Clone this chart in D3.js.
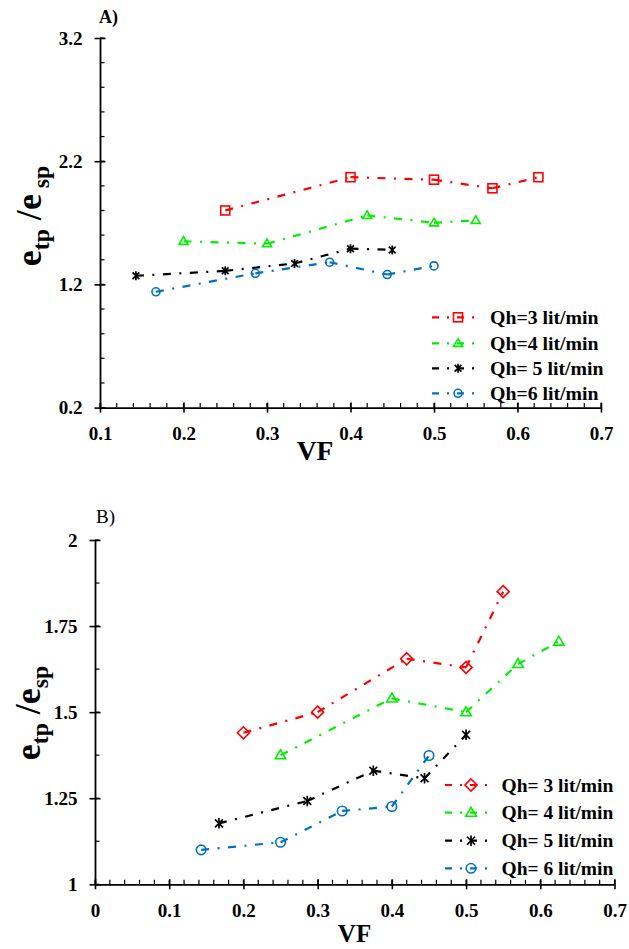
<!DOCTYPE html>
<html><head><meta charset="utf-8">
<script src="https://cdn.jsdelivr.net/npm/d3@7"></script>
<style>
html,body{margin:0;padding:0;background:#fff;}
svg text{font-family:"Liberation Serif","Times New Roman",Tinos,Times,serif !important;}
</style></head>
<body><svg id="c" width="629" height="949"></svg>
<script>
// ---------- DATA ----------
// Panel A
const vfA3 = [0.25, 0.4, 0.5, 0.57, 0.625];
const eA3  = [1.80, 2.07, 2.05, 1.98, 2.07];
const vfA4 = [0.2, 0.3, 0.42, 0.5, 0.55];
const eA4  = [1.55, 1.53, 1.76, 1.70, 1.72];
const vfA5 = [0.143, 0.25, 0.333, 0.4, 0.45];
const eA5  = [1.27, 1.31, 1.37, 1.49, 1.48];
const vfA6 = [0.167, 0.286, 0.375, 0.444, 0.5];
const eA6  = [1.14, 1.29, 1.38, 1.28, 1.35];
const labelsA = ["Qh=3 lit/min", "Qh=4 lit/min", "Qh= 5 lit/min", "Qh=6 lit/min"];
const yTicksA = [0.2, 1.2, 2.2, 3.2];
const xTicksA = [0.1, 0.2, 0.3, 0.4, 0.5, 0.6, 0.7];
// Panel B
const vfB3 = [0.2, 0.3, 0.42, 0.5, 0.55];
const eB3  = [1.44, 1.50, 1.655, 1.63, 1.85];
const vfB4 = [0.25, 0.4, 0.5, 0.57, 0.625];
const eB4  = [1.375, 1.54, 1.50, 1.64, 1.705];
const vfB5 = [0.167, 0.286, 0.375, 0.444, 0.5];
const eB5  = [1.177, 1.242, 1.33, 1.308, 1.434];
const vfB6 = [0.143, 0.25, 0.333, 0.4, 0.45];
const eB6  = [1.10, 1.122, 1.213, 1.226, 1.374];
const labelsB = ["Qh= 3 lit/min", "Qh= 4 lit/min", "Qh= 5 lit/min", "Qh= 6 lit/min"];
const yTicksB = [1, 1.25, 1.5, 1.75, 2];
const xTicksB = [0, 0.1, 0.2, 0.3, 0.4, 0.5, 0.6, 0.7];

const colors = ["#ff0000", "#00ee00", "#000000", "#0070c0"];

// ---------- DRAW ----------
const FONT = '"Liberation Serif","Times New Roman",Tinos,Times,serif';
const svg = d3.select("#c");
const DASH = "8,8.5,2,8.5";

function marker(g, type, x, y, s, color) {
  const sw = 1.6;
  if (type === "square") {
    g.append("rect").attr("x", x - s/2).attr("y", y - s/2).attr("width", s).attr("height", s)
      .attr("fill", "none").attr("stroke", color).attr("stroke-width", sw);
  } else if (type === "diamond") {
    const h = s/2 * 1.15;
    g.append("path").attr("d", `M${x},${y-h}L${x+h},${y}L${x},${y+h}L${x-h},${y}Z`)
      .attr("fill", "none").attr("stroke", color).attr("stroke-width", sw);
  } else if (type === "triangle") {
    const h = s * 0.85;
    g.append("path").attr("d", `M${x},${y-h*0.6}L${x+s/2},${y+h*0.4}L${x-s/2},${y+h*0.4}Z`)
      .attr("fill", "none").attr("stroke", color).attr("stroke-width", sw);
  } else if (type === "circle") {
    g.append("circle").attr("cx", x).attr("cy", y).attr("r", s/2 - 0.5)
      .attr("fill", "none").attr("stroke", color).attr("stroke-width", sw);
  } else if (type === "star") {
    const r = s/2, d = r * 0.75;
    g.append("path").attr("d", `M${x-d},${y-d}L${x+d},${y+d}M${x-d},${y+d}L${x+d},${y-d}M${x},${y-r}L${x},${y+r}`)
      .attr("fill", "none").attr("stroke", color).attr("stroke-width", 1.7);
  }
}

function series(g, xs, ys, xsc, ysc, color, type, ms) {
  for (let i = 0; i < xs.length - 1; i++) {
    g.append("line")
      .attr("x1", xsc(xs[i])).attr("y1", ysc(ys[i]))
      .attr("x2", xsc(xs[i+1])).attr("y2", ysc(ys[i+1]))
      .attr("stroke", color).attr("stroke-width", 2.2)
      .attr("stroke-dasharray", DASH);
  }
  xs.forEach((v, i) => marker(g, type, xsc(v), ysc(ys[i]), ms, color));
}

function panel(cfg) {
  const g = svg.append("g");
  const x = d3.scaleLinear().domain(cfg.xDom).range(cfg.xRange);
  const y = d3.scaleLinear().domain(cfg.yDom).range(cfg.yRange);
  const x0 = cfg.xRange[0], y0 = cfg.yRange[0];

  // minor ticks (inside)
  d3.range(cfg.xDom[0], cfg.xDom[1] + 1e-9, cfg.xMinor).forEach(v => {
    g.append("line").attr("x1", x(v)).attr("x2", x(v)).attr("y1", y0).attr("y2", y0 - 4.5)
      .attr("stroke", "#000").attr("stroke-width", 1.2);
  });
  d3.range(cfg.yDom[0], cfg.yDom[1] + 1e-9, cfg.yMinor).forEach(v => {
    g.append("line").attr("y1", y(v)).attr("y2", y(v)).attr("x1", x0).attr("x2", x0 + 4.5)
      .attr("stroke", "#000").attr("stroke-width", 1.2);
  });

  const xa = g.append("g").attr("transform", `translate(0,${y0})`)
    .call(d3.axisBottom(x).tickValues(cfg.xTicks).tickSizeInner(5).tickSizeOuter(0)
      .tickPadding(cfg.xPad).tickFormat(d => d === 0 ? "0" : d3.format(".1f")(d)));
  const ya = g.append("g").attr("transform", `translate(${x0},0)`)
    .call(d3.axisLeft(y).tickValues(cfg.yTicks).tickSizeInner(5.5).tickSizeOuter(0)
      .tickPadding(cfg.yPad).tickFormat(cfg.yFmt));
  [xa, ya].forEach(a => {
    a.attr("font-family", null);
    a.select(".domain").attr("stroke", "#000").attr("stroke-width", 1.8);
    a.selectAll(".tick line").attr("stroke", "#000").attr("stroke-width", 1.6);
    a.selectAll(".tick text").style("font-family", FONT).attr("font-weight", "bold")
      .attr("font-size", cfg.tickFs).attr("fill", "#000");
  });
  xa.selectAll(".tick line").attr("y1", -5);
  ya.selectAll(".tick line").attr("x1", 5.5);

  // series
  const plot = g.append("g");
  cfg.series.forEach((s, i) => series(plot, s[0], s[1], x, y, colors[i], cfg.markers[i], cfg.ms));

  // legend
  const lg = g.append("g");
  cfg.labels.forEach((lab, i) => {
    const ly = cfg.legY[i];
    lg.append("line").attr("x1", cfg.legX[0]).attr("x2", cfg.legX[1]).attr("y1", ly).attr("y2", ly)
      .attr("stroke", colors[i]).attr("stroke-width", 2.2).attr("stroke-dasharray", "7,8,2,8");
    marker(lg, cfg.markers[i], cfg.legX[2], ly, cfg.ms, colors[i]);
    lg.append("text").attr("x", cfg.legX[3]).attr("y", ly + 6.5).attr("font-weight", "bold")
      .style("font-family", FONT).attr("font-size", cfg.legFs).text(lab);
  });

  // titles
  g.append("text").attr("x", cfg.tag[0]).attr("y", cfg.tag[1]).attr("font-size", cfg.tag[3])
    .style("font-family", FONT).attr("font-weight", cfg.tag[4]).text(cfg.tag[2]);
  g.append("text").attr("x", cfg.xl[0]).attr("y", cfg.xl[1]).attr("text-anchor", "middle")
    .style("font-family", FONT).attr("font-weight", "bold").attr("font-size", cfg.xl[2]).text("VF");
  const yl = g.append("text").attr("transform", `translate(${cfg.yl[0]},${cfg.yl[1]}) rotate(-90)`)
    .style("font-family", FONT).attr("text-anchor", "middle").attr("font-weight", "bold").attr("font-size", cfg.yl[2]);
  yl.append("tspan").text("e");
  yl.append("tspan").attr("font-size", cfg.yl[2] * 0.66).attr("dy", 8).text("tp");
  yl.append("tspan").attr("dy", -8).text(" /e");
  yl.append("tspan").attr("font-size", cfg.yl[2] * 0.66).attr("dy", 8).text(cfg.yl[3] + "sp");
}

panel({
  xDom: [0.1, 0.7], xRange: [100, 601], yDom: [0.2, 3.2], yRange: [407.6, 38],
  xTicks: xTicksA, yTicks: yTicksA, xMinor: 0.02, yMinor: 0.2,
  yFmt: d3.format(".1f"), xPad: 14, yPad: 12, tickFs: 19,
  series: [[vfA3, eA3], [vfA4, eA4], [vfA5, eA5], [vfA6, eA6]],
  markers: ["square", "triangle", "star", "circle"], ms: 9,
  labels: labelsA, legY: [317.3, 343.3, 368.3, 393.3], legX: [432, 480, 458, 490], legFs: 19.8,
  tag: [99, 23, "A)", 18, "bold"], xl: [315, 460, 27.5], yl: [41, 216, 36, " "]
});

panel({
  xDom: [0, 0.7], xRange: [95, 614.5], yDom: [1, 2], yRange: [884.3, 540],
  xTicks: xTicksB, yTicks: yTicksB, xMinor: 0.02, yMinor: 0.125,
  yFmt: d => String(d), xPad: 14, yPad: 12, tickFs: 19,
  series: [[vfB3, eB3], [vfB4, eB4], [vfB5, eB5], [vfB6, eB6]],
  markers: ["diamond", "triangle", "star", "circle"], ms: 10.5,
  labels: labelsB, legY: [785, 812.7, 840.7, 868.3], legX: [445, 490, 471, 501.5], legFs: 19.5,
  tag: [96, 523, "B)", 19, "normal"], xl: [354.5, 942, 25], yl: [40, 713, 36, ""]
});
</script></body></html>
